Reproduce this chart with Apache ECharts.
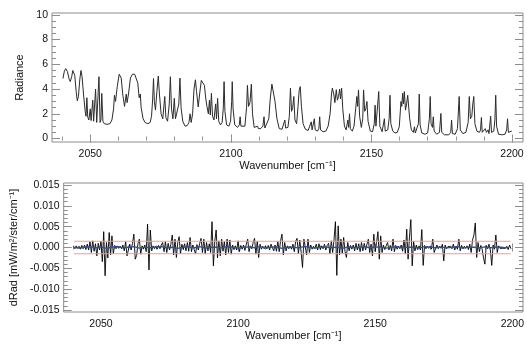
<!DOCTYPE html>
<html>
<head>
<meta charset="utf-8">
<script src="https://cdn.jsdelivr.net/npm/echarts@6/dist/echarts.min.js"></script>
<style>
  html, body { margin: 0; padding: 0; background: #fff; }
  #chart { width: 527px; height: 344px; }
</style>
</head>
<body>
<div id="chart"></div>
<script>
// ---- Data ---------------------------------------------------------------

// Measured radiance spectrum: [wavenumber (cm^-1), radiance]
const radiance = [
  [2040.3,4.85],[2040.8,5.45],[2041.3,5.65],[2041.9,5.4],[2042.5,4.8],[2042.9,4.6],[2043.4,5.0],[2043.8,5.5],
  [2044.1,5.58],[2044.5,5.1],[2045.0,3.8],[2045.4,3.05],[2045.8,3.4],[2046.3,4.8],[2046.7,5.5],[2047.1,5.0],
  [2047.6,3.6],[2048.2,2.2],[2048.5,1.8],[2048.8,3.3],[2049.1,1.75],[2049.5,1.5],[2050.0,2.4],[2050.3,1.45],
  [2050.9,3.1],[2051.2,1.4],[2051.6,1.35],[2051.9,4.0],[2052.3,1.3],[2052.7,1.4],[2053.1,5.0],[2053.5,1.3],
  [2053.8,1.5],[2054.1,3.65],[2054.5,1.4],[2055.0,1.2],[2056.0,1.15],[2057.0,1.2],[2057.7,1.5],[2058.3,2.4],
  [2058.6,3.5],[2059.0,3.0],[2059.6,4.2],[2060.3,5.2],[2060.6,5.27],[2061.0,4.9],[2061.6,3.5],[2062.2,2.6],
  [2062.8,3.6],[2063.1,2.9],[2063.6,3.6],[2064.3,4.9],[2065.0,5.2],[2065.8,5.2],[2066.4,5.1],[2066.9,4.5],
  [2067.4,3.3],[2067.8,3.6],[2068.1,2.5],[2068.8,1.6],[2069.5,1.3],[2070.5,1.2],[2071.3,1.3],[2071.8,1.8],
  [2072.2,3.2],[2072.5,4.85],[2072.8,3.0],[2073.2,2.3],[2073.7,3.8],[2074.2,5.05],[2074.6,3.6],[2075.2,2.0],
  [2075.8,1.6],[2076.5,3.4],[2076.9,1.7],[2077.5,1.4],[2078.1,2.8],[2078.5,5.0],[2078.9,2.4],[2079.4,1.6],
  [2079.9,3.25],[2080.3,1.6],[2080.9,1.5],[2081.5,2.8],[2081.9,4.88],[2082.3,2.5],[2082.9,1.4],[2083.7,1.0],
  [2084.5,1.05],[2085.1,1.3],[2085.5,2.0],[2085.9,1.3],[2086.4,2.0],[2086.9,4.0],[2087.4,4.75],[2087.8,3.8],
  [2088.4,2.55],[2088.9,3.6],[2089.5,4.7],[2090.1,4.8],[2090.6,4.3],[2091.1,3.2],[2091.5,2.6],[2092.0,2.0],
  [2092.4,3.1],[2092.7,1.9],[2093.1,3.66],[2093.5,1.8],[2094.0,1.5],[2094.6,2.8],[2094.9,1.6],[2095.3,3.25],
  [2095.7,1.4],[2096.3,1.1],[2096.9,1.3],[2097.3,2.4],[2097.6,4.6],[2097.9,2.2],[2098.5,1.1],[2099.3,1.0],
  [2099.9,1.4],[2100.3,3.0],[2100.5,4.6],[2100.8,2.4],[2101.4,1.1],[2102.4,0.9],[2103.0,1.1],[2103.3,1.76],
  [2103.6,1.0],[2104.3,0.85],[2105.0,1.0],[2105.6,2.5],[2105.9,4.3],[2106.3,2.6],[2106.8,2.9],[2107.3,4.4],
  [2107.7,2.0],[2108.3,0.9],[2109.0,0.85],[2109.5,1.0],[2109.8,0.8],[2110.6,0.8],[2111.4,1.0],[2111.8,1.76],
  [2112.1,0.85],[2112.8,0.9],[2113.5,1.6],[2114.0,3.2],[2114.6,4.4],[2115.2,4.3],[2115.7,3.0],[2116.4,1.6],
  [2117.2,0.8],[2118.2,0.75],[2118.9,0.9],[2119.2,1.5],[2119.5,0.85],[2120.3,0.9],[2120.8,1.8],[2121.2,4.07],
  [2121.6,2.2],[2122.0,2.5],[2122.4,3.4],[2122.8,1.5],[2123.4,1.2],[2123.9,2.6],[2124.3,3.9],[2124.7,4.2],
  [2125.1,2.6],[2125.7,1.2],[2126.5,0.75],[2127.5,0.65],[2128.2,0.75],[2128.6,1.35],[2128.9,0.7],[2129.4,0.75],
  [2129.7,1.6],[2130.0,0.7],[2130.8,0.6],[2131.3,0.8],[2131.6,1.76],[2131.9,0.7],[2132.8,0.55],[2133.8,0.6],
  [2134.6,1.0],[2135.3,2.0],[2135.8,3.6],[2136.1,4.07],[2136.6,3.6],[2137.0,2.9],[2137.5,3.95],[2137.9,3.1],
  [2138.3,3.4],[2138.7,4.0],[2139.0,3.2],[2139.4,4.07],[2139.8,2.4],[2140.4,1.0],[2141.0,0.7],[2141.6,1.5],
  [2141.9,0.9],[2142.2,2.0],[2142.5,0.8],[2143.2,0.6],[2143.8,1.0],[2144.4,2.4],[2144.8,3.4],[2145.1,2.6],
  [2145.4,3.93],[2145.8,1.8],[2146.4,0.9],[2146.9,1.6],[2147.2,3.93],[2147.6,2.2],[2148.0,2.4],[2148.4,3.0],
  [2148.8,1.4],[2149.6,0.6],[2150.4,0.55],[2151.0,1.2],[2151.3,2.7],[2151.6,1.0],[2152.2,0.9],[2152.6,3.8],
  [2153.0,1.0],[2153.8,0.55],[2154.4,0.7],[2154.6,1.6],[2154.9,0.6],[2155.8,0.7],[2156.3,1.6],[2156.6,3.5],
  [2156.9,1.2],[2157.6,0.6],[2158.4,0.45],[2159.2,0.5],[2159.9,0.95],[2160.5,3.0],[2160.8,2.6],[2161.1,3.66],
  [2161.4,2.8],[2161.7,3.8],[2162.1,2.3],[2162.5,2.8],[2162.9,3.5],[2163.2,3.66],[2163.6,1.6],[2164.2,0.7],
  [2164.9,0.5],[2165.3,0.95],[2165.6,0.45],[2166.3,0.4],[2166.7,1.2],[2167.0,3.6],[2167.3,1.1],[2167.9,0.45],
  [2169.0,0.35],[2170.0,0.45],[2170.6,1.6],[2170.9,3.4],[2171.2,1.2],[2171.7,0.9],[2172.0,1.76],[2172.3,0.6],
  [2173.2,0.35],[2174.2,0.5],[2174.7,2.03],[2175.0,0.5],[2176.0,0.3],[2177.5,0.3],[2178.2,0.5],[2178.5,1.5],
  [2178.8,0.4],[2179.8,0.35],[2180.6,0.8],[2181.2,3.4],[2181.6,0.7],[2182.5,0.4],[2183.6,0.5],[2184.4,1.3],
  [2184.8,3.4],[2185.2,1.6],[2185.7,1.8],[2186.0,2.7],[2186.4,3.4],[2186.8,1.2],[2187.5,0.6],[2188.4,0.5],
  [2188.8,0.7],[2189.1,1.7],[2189.4,0.5],[2190.0,0.5],[2190.5,0.8],[2190.9,0.5],[2191.5,0.7],[2191.8,0.4],
  [2192.4,1.8],[2192.7,0.5],[2193.5,0.6],[2193.9,1.5],[2194.2,3.5],[2194.5,1.0],[2195.2,0.35],[2196.5,0.3],
  [2197.5,0.35],[2198.1,0.7],[2198.4,1.6],[2198.7,0.5],[2199.3,0.5],[2199.9,0.6]
];

// Residual (measured - modelled), sampled every 0.5 cm^-1 from 2040, in 1e-3 mW/m2/ster/cm-1
const residualStart = 2040;
const residualStep = 0.5;
const residual = [
  0.2,-0.3,0.4,-0.2,0.3,-0.4,0.5,-0.3,0.6,-0.5,0.8,-0.6,1.4,-1.2,1.6,-0.9,0.9,-2.0,1.0,-0.6,
  1.5,-3.4,3.8,-6.8,1.2,-2.5,3.6,-1.8,2.8,-1.5,0.5,-0.3,0.3,-0.2,0.3,-0.3,0.6,-0.8,1.4,-2.0,
  -2.0,0.8,-0.6,1.0,3.2,-2.8,-1.9,1.0,2.0,-1.6,0.4,-0.4,0.6,-1.0,5.6,-5.4,4.2,-0.8,0.4,-0.3,
  0.3,-0.4,0.5,-0.3,0.6,1.2,-1.0,1.4,-1.2,1.0,-0.6,0.8,3.0,-1.8,2.0,-2.4,1.2,2.6,-1.5,0.8,
  -0.5,0.9,-0.8,1.2,-0.9,2.4,-1.0,0.6,-0.5,-1.5,0.7,-0.6,1.0,2.2,-1.2,2.0,-1.5,1.2,-0.8,0.9,
  -1.2,6.2,-4.4,1.5,4.2,-2.5,1.6,-2.0,2.0,-0.9,1.4,-1.8,2.0,-1.2,1.8,-1.6,0.6,-0.5,0.4,-0.6,
  1.6,-1.0,0.5,-0.4,0.6,-0.7,0.8,2.0,-1.0,0.4,-0.3,1.2,2.2,-1.6,1.5,-2.4,0.8,-0.4,0.3,-0.3,
  0.4,-0.3,0.5,-0.6,0.8,1.2,-0.8,0.6,-0.9,1.4,-1.0,1.6,3.2,-1.8,1.2,-0.8,0.4,-0.3,0.3,-0.4,
  0.8,-1.0,1.5,2.2,-1.5,1.8,-1.2,-4.8,2.0,1.6,-1.8,2.0,-1.2,0.6,-0.4,0.3,-0.3,0.8,-0.6,0.9,
  -0.5,0.4,-0.3,0.8,-0.6,0.5,1.0,-1.5,1.6,-1.2,2.0,6.2,-6.7,5.2,-1.8,2.0,-1.4,2.4,-1.0,-2.4,
  1.2,-0.8,0.5,-0.4,0.6,-0.8,1.0,-0.6,0.9,-1.0,1.2,-0.8,1.0,-0.6,0.8,2.0,-1.2,0.8,-2.0,3.2,
  -1.0,1.2,3.8,-2.8,2.8,-1.2,0.6,-0.5,0.4,1.2,-0.6,0.5,-0.8,2.0,-1.0,0.5,-0.4,0.3,-0.3,0.6,
  -0.9,1.8,-1.5,4.4,-2.8,2.5,6.7,-4.4,1.5,-0.8,0.6,-0.5,0.4,-0.6,4.3,-4.3,0.5,-0.3,0.3,-0.2,
  0.3,-0.4,2.0,-1.2,-1.6,0.6,-0.3,0.3,-0.2,0.8,-3.2,0.6,-0.3,0.2,-0.2,0.3,-0.3,0.8,-0.6,0.3,
  -0.4,2.0,-0.8,0.5,-0.3,0.3,-0.2,0.4,-0.5,0.8,-1.2,1.8,3.0,5.9,-2.4,1.2,-1.0,0.5,-0.4,-2.5,
  -4.0,0.5,-0.3,0.8,-0.6,-4.3,0.6,-0.4,3.0,-1.2,0.4,-0.2,0.2,-0.2,0.1,-0.2,0.3,-0.5,0.6,-0.3
];

// Running mean of the residual, every 2 cm^-1 from 2040, in 1e-3 units
const meanStart = 2040;
const meanStep = 2;
const residualMean = [
  0.1,-0.15,0.05,0.2,-0.1,0.15,-0.2,0.1,0.25,-0.1, 0.05,0.2,-0.15,0.1,-0.05,0.15,0.2,-0.1,0.05,-0.2,
  0.1,0.15,-0.05,0.2,-0.15,0.05,0.1,-0.1,0.2,0.05, -0.15,0.1,0.15,-0.05,0.2,-0.1,0.05,0.15,-0.2,0.1,
  0.05,-0.1,0.2,0.1,-0.15,0.05,0.15,-0.05,0.1,-0.2, 0.15,0.05,-0.1,0.2,-0.05,0.1,0.15,-0.15,0.05,0.2,
  -0.1,0.1,0.05,-0.15,0.2,0.1,-0.05,0.15,-0.1,0.05, 0.2,-0.15,0.1,0.05,-0.1,0.15,-0.05,0.1,0.05,-0.1
];

// Noise level (1 sigma) and the spectral range it applies to
const noiseLevel = 0.0015;
const noiseRange = [2040.2, 2199.4];

// Axis ranges and tick labels
const wnRange = [2036.4, 2203.9];
const wnLabels = [2050, 2100, 2150, 2200];
const radRange = [-0.28, 10.15];
const radLabels = [0, 2, 4, 6, 8, 10];
const dRadRange = [-0.0155, 0.0155];
const dRadLabels = [-0.015, -0.010, -0.005, 0.000, 0.005, 0.010, 0.015];

// ---- Derived tick positions ---------------------------------------------
function steps(from, to, step, skip) {
  const out = [];
  const n = Math.round((to - from) / step);
  for (let i = 0; i <= n; i++) {
    const v = +(from + i * step).toFixed(6);
    if (!skip || !skip.some(s => Math.abs(s - v) < 1e-9)) out.push(v);
  }
  return out;
}
const wnMinor = steps(2040, 2200, 10, wnLabels);
const radMinor = steps(0, 10, 0.5, radLabels);
const dRadMinor = steps(-0.015, 0.015, 0.001, dRadLabels);

const residualPts = residual.map((v, i) => [residualStart + i * residualStep, v * 1e-3]);
const meanPts = residualMean.map((v, i) => [meanStart + i * meanStep, v * 1e-3]);

// ---- Styling --------------------------------------------------------------
const FONT = '"Liberation Sans", Arial, Helvetica, sans-serif';
const AXIS_COLOR = '#8c8c8c';
const TEXT_COLOR = '#111';

function tickAxis(g, pos, range, ticks, len, extra) {
  return Object.assign({
    type: 'value', gridIndex: g, position: pos, min: range[0], max: range[1],
    axisLine: { show: false },
    splitLine: { show: false },
    axisTick: { show: true, inside: true, length: len, customValues: ticks,
                lineStyle: { color: AXIS_COLOR, width: 1 } },
    axisLabel: { show: false },
    axisPointer: { show: false }
  }, extra || {});
}

function labelStyle(values, formatter, margin) {
  return { show: true, customValues: values, formatter: formatter, margin: margin,
           color: TEXT_COLOR, fontSize: 10.5, fontFamily: FONT };
}

const nameStyle = { color: TEXT_COLOR, fontSize: 11, fontFamily: FONT };

function xAxesFor(g) {
  return [
    tickAxis(g, 'bottom', wnRange, wnLabels, 4, {
      axisLabel: labelStyle(wnLabels, v => String(v), 7),
      name: 'Wavenumber [cm⁻¹]', nameLocation: 'middle', nameGap: 18, nameTextStyle: nameStyle
    }),
    tickAxis(g, 'bottom', wnRange, wnMinor, 2),
    tickAxis(g, 'top', wnRange, wnLabels, 4),
    tickAxis(g, 'top', wnRange, wnMinor, 2)
  ];
}

function yAxesFor(g, range, labels, minor, fmt, name, gap) {
  return [
    tickAxis(g, 'left', range, labels, 8, {
      axisLabel: labelStyle(labels, fmt, 4),
      name: name, nameLocation: 'middle', nameGap: gap, nameTextStyle: nameStyle
    }),
    tickAxis(g, 'left', range, minor, 4),
    tickAxis(g, 'right', range, labels, 8),
    tickAxis(g, 'right', range, minor, 4)
  ];
}

const chart = echarts.init(document.getElementById('chart'), null, { renderer: 'canvas' });

chart.setOption({
  animation: false,
  backgroundColor: '#fff',
  grid: [
    { left: 52, top: 13, width: 471, height: 129, show: true, borderColor: AXIS_COLOR, borderWidth: 1, backgroundColor: 'transparent' },
    { left: 52, top: 183, width: 471, height: 129, show: true, borderColor: AXIS_COLOR, borderWidth: 1, backgroundColor: 'transparent' }
  ],
  xAxis: xAxesFor(0).concat(xAxesFor(1)),
  yAxis: yAxesFor(0, radRange, radLabels, radMinor, v => String(v), 'Radiance', 20)
    .concat(yAxesFor(1, dRadRange, dRadLabels, dRadMinor, v => v.toFixed(3), 'dRad [mW/m²/ster/cm⁻¹]', 39)),
  series: [
    {
      name: 'Radiance', type: 'line', xAxisIndex: 0, yAxisIndex: 0,
      data: radiance, showSymbol: false, symbol: 'none',
      lineStyle: { color: '#2b2b2b', width: 1 }
    },
    {
      name: 'Residual', type: 'line', xAxisIndex: 4, yAxisIndex: 4,
      data: residualPts, showSymbol: false, symbol: 'none',
      lineStyle: { color: '#000', width: 0.9 }
    },
    {
      name: 'Mean', type: 'line', xAxisIndex: 4, yAxisIndex: 4,
      data: meanPts, showSymbol: false, symbol: 'none',
      lineStyle: { color: '#2f4f9e', width: 1.4 }
    },
    {
      name: '+sigma', type: 'line', xAxisIndex: 4, yAxisIndex: 4,
      data: [[noiseRange[0], noiseLevel], [noiseRange[1], noiseLevel]],
      showSymbol: false, symbol: 'none', lineStyle: { color: '#f29a9a', width: 1 }
    },
    {
      name: '-sigma', type: 'line', xAxisIndex: 4, yAxisIndex: 4,
      data: [[noiseRange[0], -noiseLevel], [noiseRange[1], -noiseLevel]],
      showSymbol: false, symbol: 'none', lineStyle: { color: '#f29a9a', width: 1 }
    }
  ]
});
</script>
</body>
</html>
